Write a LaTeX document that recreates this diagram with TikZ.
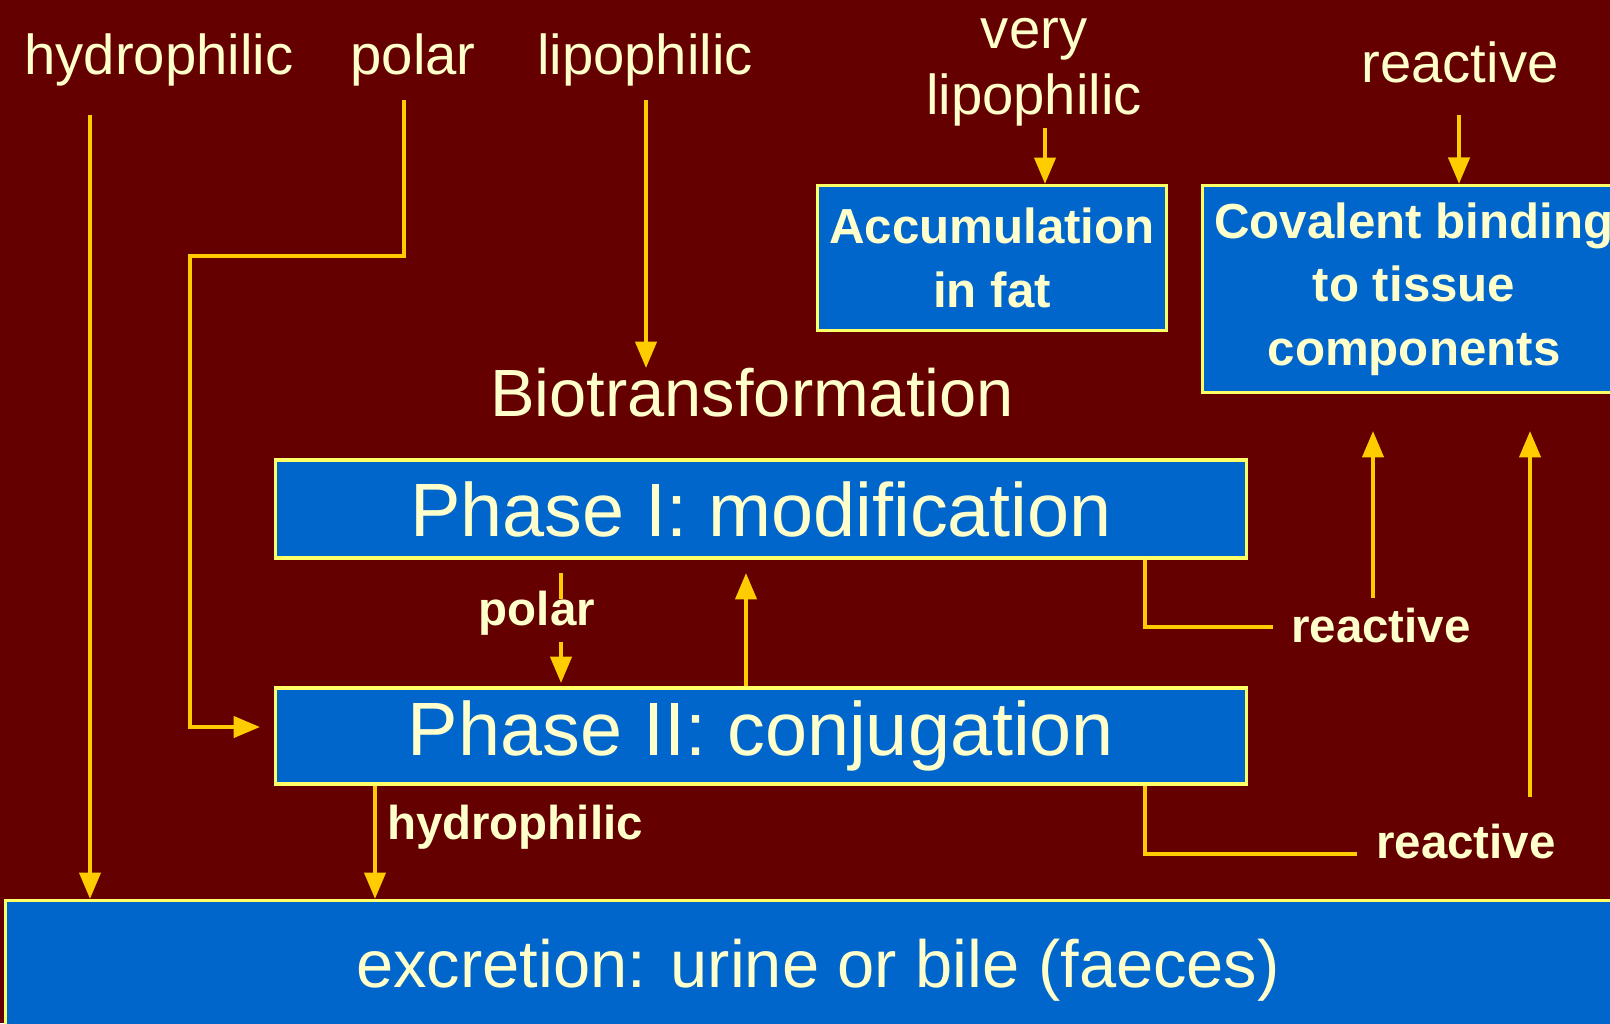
\documentclass[tikz,border=0pt]{standalone}
\usepackage{fontspec}
\setmainfont{Liberation Sans}
\usetikzlibrary{arrows.meta}
\definecolor{bgred}{HTML}{640000}
\definecolor{boxblue}{HTML}{0066CC}
\definecolor{rimyellow}{HTML}{FFFF66}
\definecolor{wireyellow}{HTML}{FFCC00}
\definecolor{cream}{HTML}{FFFFCC}
\begin{document}
\begin{tikzpicture}[
  x=0.01cm,y=-0.01cm,
  wire/.style={draw=wireyellow,line width=1.1pt},
  arr/.style={wire,-{Triangle[width=6pt,length=7.5pt]}},
  box/.style={draw=rimyellow,line width=0.9pt,fill=boxblue,text=cream,inner sep=0pt,align=center},
  toplabel/.style={font=\fontsize{16}{19}\selectfont,text=cream,align=center,inner sep=0pt},
  sidelabel/.style={font=\bfseries\fontsize{13.5}{16}\selectfont,text=cream,inner sep=0pt},
  phasetext/.style={font=\fontsize{21.5}{25}\selectfont},
]
\fill[bgred] (0,0) rectangle (1610,1023);
\useasboundingbox (0,0) rectangle (1610,1023);
\node[toplabel] (hyd) at (159,60) {hydrophilic};
\node[toplabel] (pol) at (413,60) {polar};
\node[toplabel] (lip) at (645,60) {lipophilic};
\node[toplabel,font=\fontsize{16}{18.7}\selectfont] (vlip) at (1034,72) {very\\lipophilic};
\node[toplabel] (reac) at (1460,62) {reactive};
\node[box,minimum width=3.48cm,minimum height=1.45cm,
  font=\bfseries\fontsize{14}{18}\selectfont] (acc) at (992,258) {Accumulation\\in fat};
\node[box,minimum width=4.22cm,minimum height=2.07cm,
  font=\bfseries\fontsize{14}{18}\selectfont] (cov) at (1414,289) {Covalent binding\\to tissue\\components};
\node[text=cream,font=\fontsize{19}{22}\selectfont,inner sep=0pt] (bio) at (752,393) {Biotransformation};
\node[box,phasetext,minimum width=9.7cm,minimum height=0.98cm] (p1) at (761,509) {Phase I: modification};
\node[box,phasetext,minimum width=9.7cm,minimum height=0.96cm] (p2) at (761,736) {Phase II: conjugation};
\node[box,font=\fontsize{19}{22}\selectfont,minimum width=16.24cm,minimum height=1.39cm] (exc) at (818,970) {excretion: urine or bile (faeces)};
\node[sidelabel] (polmid) at (537,613) {polar};
\node[sidelabel] (hydmid) at (515,827) {hydrophilic};
\node[sidelabel] (reacmid) at (1381,626) {reactive};
\node[sidelabel] (reaclow) at (1466,842) {reactive};
\coordinate (hydtop) at (90,115);
\coordinate (poltop) at (404,100);
\coordinate (poltip) at (260,727);
\coordinate (liptop) at (646,100);
\coordinate (vliptop) at (1045,128);
\coordinate (reactop) at (1459,115);
\draw[arr] (hydtop) -- (hydtop |- exc.north);
\draw[arr] (poltop) -- (404,256) -- (190,256) |- (poltip);
\draw[arr] (liptop) -- (646,368);
\draw[arr] (vliptop) -- (vliptop |- acc.north);
\draw[arr] (reactop) -- (reactop |- cov.north);
\draw[wire] (561,573) -- (561,599);
\draw[arr] (561,642) -- (561,683);
\draw[arr] (746,0 |- p2.north) -- (746,573);
\draw[arr] (375,0 |- p2.south) -- (375,0 |- exc.north);
\draw[wire] (1145,0 |- p1.south) |- (1273,627);
\draw[wire] (1145,0 |- p2.south) |- (1357,854);
\draw[arr] (1373,598) -- (1373,431);
\draw[arr] (1530,797) -- (1530,431);
\end{tikzpicture}
\end{document}
